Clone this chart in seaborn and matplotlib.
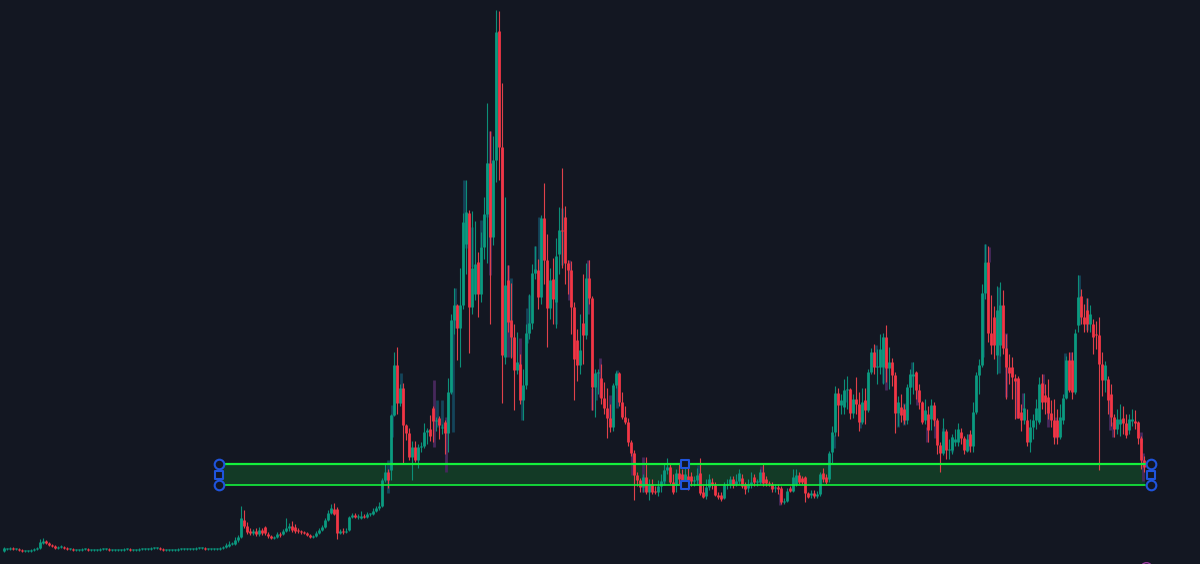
"""Candlestick chart with a highlighted support zone, dark theme."""

import matplotlib

matplotlib.use("Agg")
import matplotlib.pyplot as plt
import numpy as np
import pandas as pd
import seaborn as sns
from matplotlib.markers import MarkerStyle
from matplotlib.patches import Rectangle

BG = "#131722"
UP = "#0b9a80"
DOWN = "#f23645"
UP_WICK = "#0c8f78"
DOWN_WICK = "#e0414a"
ZONE_FILL = "#133a26"
ZONE_LINE = "#14f03c"
HANDLE = "#1f54dc"
GHOST_BLUE = "#14445a"
GHOST_PURPLE = "#47285c"

FIRST_BAR = 4
BAR_STEP = 3

OPENS = [
    13,15,15,16,15,15,14,13,13,13,
    14,15,16,21,23,21,19,18,16,17,
    17,16,15,15,14,14,14,15,15,14,
    14,14,14,15,15,15,14,14,14,14,
    14,15,15,14,14,14,15,15,15,15,
    16,16,16,15,14,14,14,14,14,15,
    15,15,15,15,15,16,16,16,15,15,
    15,15,15,16,17,18,20,20,24,27,
    44,38,33,31,33,30,34,37,30,28,
    26,27,30,30,33,36,38,37,34,33,
    32,31,29,27,28,31,34,37,44,51,
    55,55,31,33,32,34,47,49,47,46,
    48,47,50,50,53,56,58,84,92,94,
    149,199,161,176,139,131,107,117,104,117,
    118,132,135,156,143,146,136,142,131,172,
    244,259,236,259,320,351,257,270,302,270,
    317,350,401,327,404,533,417,207,284,244,
    227,194,200,164,179,231,241,291,294,267,
    346,304,256,285,262,310,334,347,301,294,
    257,224,199,241,229,286,266,177,191,186,
    166,156,146,137,179,191,162,147,142,122,
    111,89,84,77,87,72,80,73,72,78,
    83,94,97,82,79,91,90,84,88,88,
    83,84,91,72,68,77,82,79,69,69,
    66,79,80,85,80,83,86,80,76,80,
    87,82,82,92,85,81,80,76,77,76,
    62,63,76,73,80,89,86,87,71,69,
    71,68,70,91,87,85,112,132,171,159,
    157,174,175,151,165,160,142,164,154,192,
    212,197,197,197,227,196,202,189,151,157,
    155,144,177,188,192,174,162,144,150,145,
    159,144,119,111,133,114,114,122,122,132,
    126,113,130,118,152,189,199,271,302,231,
    247,209,219,259,216,197,197,186,186,152,
    144,144,122,137,144,142,181,169,167,151,
    144,144,127,144,166,204,204,172,239,268,
    247,254,240,240,230,229,200,184,185,170,
    147,135,140,146,141,134,143,143,142,126,
    104,
]
CLOSES = [
    16,15,16,15,15,14,13,13,13,14,
    15,16,22,23,21,19,18,16,17,18,
    16,15,15,14,14,14,15,15,14,14,
    14,14,15,15,15,14,14,14,14,14,
    15,15,14,14,14,15,15,15,15,16,
    16,16,15,14,14,14,14,14,15,15,
    15,15,15,15,16,16,16,15,15,15,
    15,15,16,17,19,20,20,24,27,46,
    38,32,31,33,30,34,31,31,28,26,
    27,30,29,33,36,38,34,33,33,32,
    31,29,27,28,31,34,37,44,51,56,
    50,31,33,32,33,47,49,47,48,48,
    47,50,50,53,56,58,84,92,84,149,
    199,161,176,139,131,107,117,104,117,118,
    132,134,128,143,144,139,137,131,172,244,
    259,236,259,342,352,257,296,300,270,317,
    350,401,327,404,532,417,209,279,242,227,
    194,202,164,179,231,241,291,295,267,346,
    304,256,284,265,308,334,333,301,294,257,
    205,199,214,229,286,266,177,191,192,166,
    156,146,137,179,191,162,147,142,122,111,
    89,84,77,87,72,80,72,72,78,83,
    94,97,82,72,91,85,84,90,84,83,
    84,89,71,67,77,85,80,69,67,65,
    79,80,85,79,83,91,78,75,80,82,
    82,83,92,81,81,80,75,77,75,62,
    63,73,73,87,89,82,82,71,67,71,
    68,70,90,85,82,111,132,171,159,164,
    174,174,151,165,160,142,162,154,192,212,
    197,197,215,227,196,202,189,151,162,149,
    144,177,190,190,174,162,142,154,134,159,
    144,119,111,133,114,115,127,125,135,126,
    114,125,118,152,189,199,271,302,231,219,
    219,254,259,216,197,191,187,183,146,144,
    156,122,137,144,156,180,162,162,151,144,
    127,127,147,166,204,174,172,231,267,247,
    240,240,250,227,229,200,184,199,164,147,
    135,145,145,141,129,145,145,141,126,104,
    97,
]
HIGHS = [
    17,16,17,17,16,16,15,14,14,15,
    16,17,25,26,24,22,20,19,18,19,
    18,17,16,16,15,15,16,16,16,15,
    15,15,16,16,16,16,15,15,15,15,
    16,16,16,15,15,16,16,16,16,17,
    17,17,17,16,15,15,15,15,16,16,
    16,16,16,16,17,17,17,17,16,16,
    16,16,17,18,21,23,22,27,29,58,
    54,42,36,35,36,37,36,38,32,29,
    28,32,32,35,46,41,43,40,36,34,
    33,32,30,29,33,36,39,46,54,60,
    61,57,35,36,36,48,51,51,50,53,
    50,52,51,56,58,62,86,100,95,150,
    212,217,180,181,140,136,123,123,120,122,
    141,136,149,158,147,148,140,144,186,250,
    276,260,296,351,384,354,353,343,312,332,
    367,461,433,428,554,553,481,367,299,281,
    240,232,210,195,240,270,300,318,305,349,
    381,330,296,306,326,357,396,358,304,303,
    262,235,250,290,301,304,268,195,195,200,
    182,176,160,181,193,192,172,158,146,124,
    114,92,86,90,107,85,85,78,84,90,
    100,106,100,90,95,100,95,105,96,92,
    88,96,106,80,85,90,86,82,72,72,
    82,85,88,88,90,95,90,82,85,92,
    90,85,95,100,88,83,82,80,80,78,
    66,76,78,95,95,92,88,88,72,74,
    74,73,92,96,90,113,138,178,176,170,
    185,188,176,170,187,172,176,176,195,216,
    220,215,230,231,239,217,206,192,168,170,
    160,180,195,202,193,180,163,165,158,165,
    162,146,122,146,135,125,130,135,141,136,
    128,130,134,162,192,205,280,320,318,269,
    258,278,282,274,230,210,207,190,188,160,
    171,155,145,150,165,187,190,180,185,164,
    165,155,160,170,208,212,212,235,289,275,
    260,266,259,245,243,247,212,203,188,180,
    150,155,160,158,150,150,155,154,143,128,
    108,
]
LOWS = [
    12,14,14,14,14,13,12,12,12,12,
    13,14,15,20,20,18,17,15,15,16,
    15,14,14,13,13,13,13,14,13,13,
    13,13,13,14,14,13,13,13,13,13,
    13,14,13,13,13,13,14,14,14,14,
    15,15,14,13,13,13,13,13,13,14,
    14,14,14,14,14,15,15,14,14,14,
    14,14,14,15,16,17,19,19,22,26,
    36,30,29,29,28,28,29,29,26,25,
    25,26,27,29,32,33,32,31,31,30,
    30,28,26,26,27,30,33,36,43,50,
    49,25,30,30,31,33,46,46,45,45,
    46,46,48,49,52,54,57,82,76,84,
    148,150,158,101,124,104,84,102,96,112,
    116,120,123,122,133,125,130,110,112,170,
    230,204,197,255,290,211,250,264,247,262,
    305,301,240,319,382,384,161,200,232,206,
    154,190,160,144,175,225,235,285,255,260,
    280,217,245,240,236,290,296,280,270,230,
    164,183,190,200,225,260,154,147,170,160,
    150,126,132,133,176,158,145,140,118,108,
    64,78,72,72,70,64,70,70,68,72,
    80,90,80,70,72,80,78,78,74,78,
    78,80,69,66,65,74,75,68,65,63,
    65,75,76,76,78,80,76,70,72,76,
    78,78,80,78,78,78,72,72,70,60,
    60,62,72,72,78,80,80,62,66,66,
    66,66,68,82,80,82,100,128,128,150,
    150,155,145,146,150,133,140,140,152,190,
    190,180,190,180,182,175,178,131,138,142,
    140,140,160,170,165,155,140,140,122,134,
    138,110,92,109,105,105,110,118,118,120,
    110,112,112,112,150,170,197,265,222,210,
    205,190,208,210,165,180,165,145,146,133,
    140,118,112,125,135,140,155,150,145,137,
    120,120,125,140,165,172,165,170,232,240,
    232,232,232,210,215,94,168,172,150,138,
    127,130,128,130,126,130,138,135,120,95,
    92,
]

# faded candles sitting behind the main series
GHOST_BAR = [
    464,466,472,481,487,490,502,508,535,539,544,556,562,569,588,392,401,434,437,
    442,446,451,453,455,520,527,529,522,511,600,596,592,617,610,388,643,664,632,
    698,761,780,834,846,860,985,989,983,999,1006,1016,1023,1079,1087,1056,1043,
    1048,1071,1065,1110,1113,1141,1143,917,927,883,876,886,898,910,912,904,943,
    935,952,968,
]
GHOST_TOP = [
    384,351,337,344,401,433,416,299,318,347,334,304,356,304,304,159,191,184,164,
    164,147,201,244,276,226,256,269,177,286,206,192,176,194,169,104,107,94,111,
    99,98,71,129,174,147,320,317,271,277,231,186,171,289,266,147,190,
    157,212,211,167,142,132,111,174,137,227,219,204,151,189,202,161,136,
    144,127,130,
]
GHOST_BOTTOM = [
    342,316,297,317,347,289,284,207,291,284,304,240,299,264,250,127,161,117,137,
    137,92,171,132,236,182,221,231,144,207,167,164,154,156,144,71,72,79,89,
    79,81,59,116,162,136,302,302,207,191,167,146,154,239,234,126,171,
    137,200,167,134,127,121,83,159,122,181,197,174,137,177,177,139,111,
    126,112,114,
]
GHOST_TONE = [
    "b","b","b","b","b","p","p","p","b","b","p","b","b","p","p","b","b","p","b",
    "b","p","b","b","b","p","b","b","b","b","p","b","p","b","p","b","p","b","p",
    "b","p","p","b","b","b","b","p","b","b","p","p","p","b","b","p","p",
    "p","p","b","p","p","p","p","p","p","b","b","p","b","b","b","b","b",
    "p","b","p",
]

ZONE_START, ZONE_END = 222, 1145
ZONE_TOP, ZONE_BOTTOM = 100, 79
ZONE_MID = 89.5
ANCHOR_LEFT, ANCHOR_CENTRE, ANCHOR_RIGHT = 219, 685, 1151

sns.set_theme(style="dark", rc={"axes.facecolor": BG, "figure.facecolor": BG})


def vertical_segments(df, top, bottom):
    """Two rows per bar, so lineplot draws a vertical stroke for each unit."""
    return df.melt(id_vars=["bar", "side"], value_vars=[top, bottom], value_name="level")


def draw_strokes(ax, long_df, palette, width, order):
    sns.lineplot(
        data=long_df, x="bar", y="level", units="bar", estimator=None,
        hue="side", hue_order=order, palette=palette, linewidth=width,
        solid_capstyle="butt", legend=False, sort=False, ax=ax,
    )


def main():
    candles = pd.DataFrame({"open": OPENS, "close": CLOSES, "high": HIGHS, "low": LOWS})
    candles["bar"] = FIRST_BAR + BAR_STEP * np.arange(len(candles))
    candles["side"] = np.where(candles["close"] >= candles["open"], "up", "down")
    candles["body_top"] = candles[["open", "close"]].max(axis=1)
    candles["body_bottom"] = candles[["open", "close"]].min(axis=1)
    # flat candles still show as a tick
    flat = candles["body_top"] == candles["body_bottom"]
    candles.loc[flat, "body_top"] += 1

    ghosts = pd.DataFrame({"bar": GHOST_BAR, "top": GHOST_TOP, "bottom": GHOST_BOTTOM, "side": GHOST_TONE})

    fig = plt.figure(figsize=(12, 5.64), dpi=100)
    ax = fig.add_axes([0, 0, 1, 1])

    ax.add_patch(Rectangle((ZONE_START, ZONE_BOTTOM), ZONE_END - ZONE_START, ZONE_TOP - ZONE_BOTTOM,
                           facecolor=ZONE_FILL, edgecolor="none", zorder=1))

    draw_strokes(ax, vertical_segments(ghosts, "top", "bottom"),
                 {"b": GHOST_BLUE, "p": GHOST_PURPLE}, 2.0, ["b", "p"])
    draw_strokes(ax, vertical_segments(candles, "high", "low"),
                 {"up": UP_WICK, "down": DOWN_WICK}, 0.8, ["up", "down"])
    draw_strokes(ax, vertical_segments(candles, "body_top", "body_bottom"),
                 {"up": UP, "down": DOWN}, 2.0, ["up", "down"])

    sns.lineplot(x=[ZONE_START, ZONE_END], y=[ZONE_TOP, ZONE_TOP], color=ZONE_LINE,
                 linewidth=1.6, errorbar=None, ax=ax, zorder=5)
    sns.lineplot(x=[ZONE_START, ZONE_END], y=[ZONE_BOTTOM, ZONE_BOTTOM], color=ZONE_LINE,
                 linewidth=1.2, errorbar=None, ax=ax, zorder=5)

    circle_x = [ANCHOR_LEFT, ANCHOR_LEFT, ANCHOR_RIGHT, ANCHOR_RIGHT]
    circle_y = [ZONE_TOP, ZONE_BOTTOM, ZONE_TOP, ZONE_BOTTOM]
    sns.scatterplot(x=circle_x, y=circle_y, marker="o", s=48, color=BG,
                    edgecolor=HANDLE, linewidth=1.5, ax=ax, zorder=6, legend=False)
    square_x = [ANCHOR_LEFT, ANCHOR_CENTRE, ANCHOR_CENTRE, ANCHOR_RIGHT]
    square_y = [ZONE_MID, ZONE_TOP, ZONE_BOTTOM, ZONE_MID]
    sns.scatterplot(x=square_x, y=square_y, marker=MarkerStyle("s", joinstyle="round"), s=40,
                    color=BG, edgecolor=HANDLE, linewidth=1.5, ax=ax, zorder=6, legend=False)

    # pink alert marker clipped by the bottom edge
    sns.scatterplot(x=[1146], y=[-4], marker="o", s=70, color=BG, edgecolor="#9c3aa0",
                    linewidth=1.0, ax=ax, zorder=6, legend=False)

    ax.set_xlim(0, 1200)
    ax.set_ylim(0, 564)
    ax.set_axis_off()
    fig.savefig("out.png", dpi=100, facecolor=BG)
    plt.close(fig)


if __name__ == "__main__":
    main()
